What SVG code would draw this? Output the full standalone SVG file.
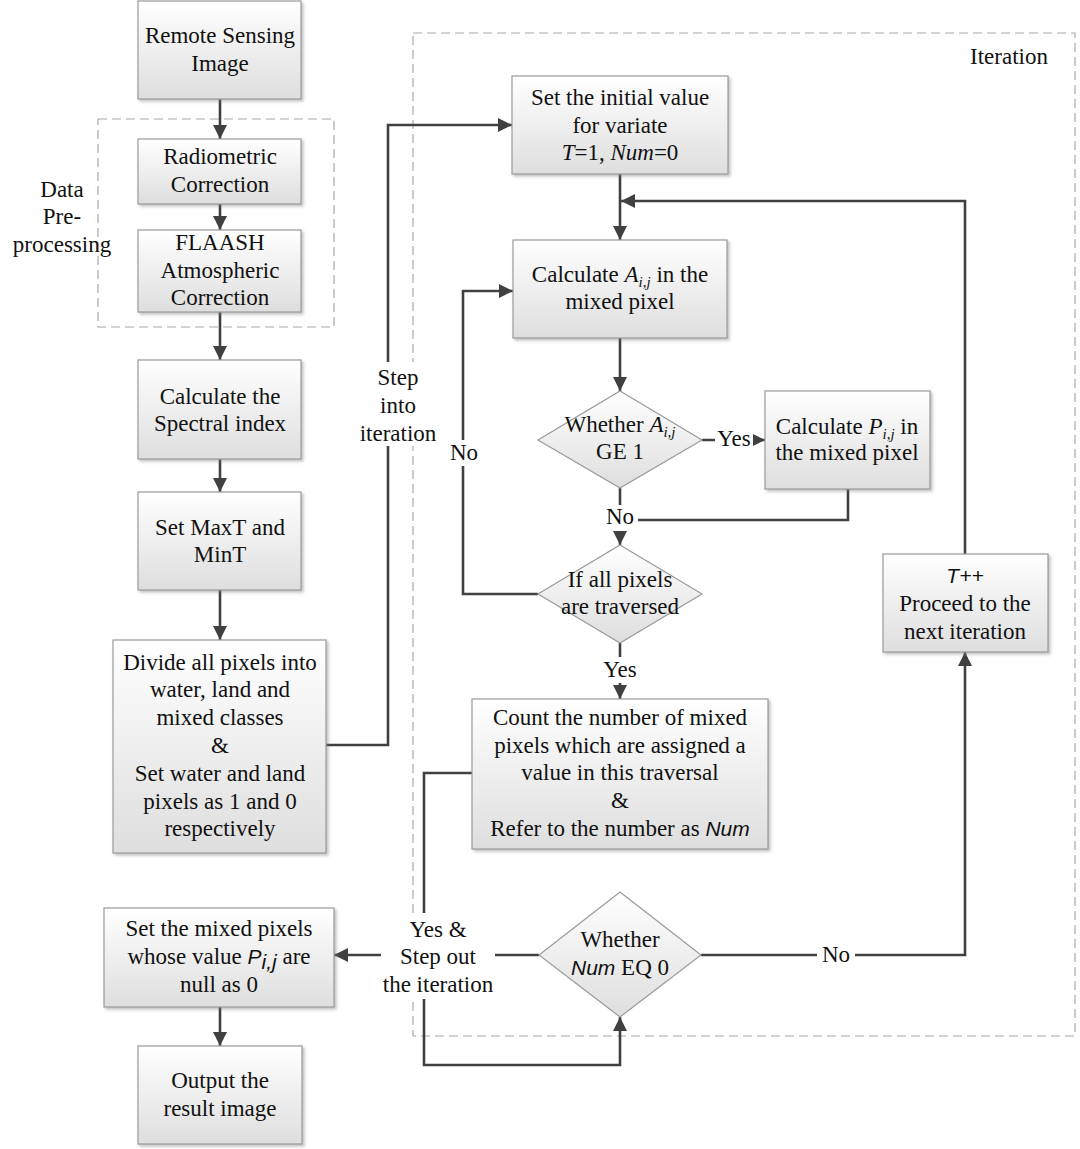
<svg xmlns="http://www.w3.org/2000/svg" width="1080" height="1149" viewBox="0 0 1080 1149">
<style>
.box{fill:url(#g);stroke:#9a9a9a;stroke-width:1.2;filter:url(#sh)}
.dia{fill:url(#g);stroke:#9a9a9a;stroke-width:1.2}
.t{font-family:"Liberation Serif","Times New Roman",serif;font-size:23px;fill:#111;text-anchor:middle}
.si{font-family:"Liberation Sans",Arial,sans-serif;font-style:italic;font-size:21px}
.it{font-style:italic}
.sub{font-size:15px;font-style:italic}
.c{fill:none;stroke:#404040;stroke-width:2.6}
.dash{fill:none;stroke:#a8a8a8;stroke-width:1.2;stroke-dasharray:9,5}
.bg{fill:#fff}
</style>
<defs>
<linearGradient id="g" x1="0" y1="0" x2="0" y2="1">
<stop offset="0" stop-color="#ffffff"/>
<stop offset="1" stop-color="#dedede"/>
</linearGradient>
<filter id="sh" x="-10%" y="-10%" width="130%" height="130%">
<feDropShadow dx="2" dy="2" stdDeviation="1.5" flood-color="#777" flood-opacity="0.45"/>
</filter>
<marker id="a" viewBox="0 0 10 10" refX="10" refY="5" markerWidth="14" markerHeight="14" markerUnits="userSpaceOnUse" orient="auto">
<path d="M0,0 L10,5 L0,10 z" fill="#404040"/>
</marker>
</defs>

<rect x="0" y="0" width="1080" height="1149" fill="#fff"/>

<g id="groups">
<rect class="dash" x="98" y="119" width="236" height="208"/>
<rect class="dash" x="413" y="33" width="662" height="1003"/>
<text class="t" x="1009" y="64">Iteration</text>
<text class="t" x="62" y="197">Data</text>
<text class="t" x="62" y="224">Pre-</text>
<text class="t" x="62" y="252">processing</text>
</g>

<g id="connectors">
<path class="c" d="M220,99 V139" marker-end="url(#a)"/>
<path class="c" d="M220,204 V230" marker-end="url(#a)"/>
<path class="c" d="M220,312 V360" marker-end="url(#a)"/>
<path class="c" d="M220,459 V492" marker-end="url(#a)"/>
<path class="c" d="M220,590 V640" marker-end="url(#a)"/>
<path class="c" d="M326,745 H388 V125 H512" marker-end="url(#a)"/>
<path class="c" d="M620,174 V240" marker-end="url(#a)"/>
<path class="c" d="M965,554 V201 H621" marker-end="url(#a)"/>
<path class="c" d="M620,338 V391" marker-end="url(#a)"/>
<path class="c" d="M702,440 H765" marker-end="url(#a)"/>
<path class="c" d="M620,488 V545" marker-end="url(#a)"/>
<path class="c" d="M848,489 V520 H636"/>
<path class="c" d="M538,594 H463 V291 H513" marker-end="url(#a)"/>
<path class="c" d="M620,643 V699" marker-end="url(#a)"/>
<path class="c" d="M472,773 H424 V1065 H620 V1017" marker-end="url(#a)"/>
<path class="c" d="M539,955 H334" marker-end="url(#a)"/>
<path class="c" d="M701,955 H965 V652" marker-end="url(#a)"/>
<path class="c" d="M220,1007 V1046" marker-end="url(#a)"/>

<rect class="bg" x="362" y="362" width="74" height="84"/>
<text class="t" x="398" y="385">Step</text>
<text class="t" x="398" y="413">into</text>
<text class="t" x="398" y="441">iteration</text>

<rect class="bg" x="446" y="440" width="36" height="26"/>
<text class="t" x="464" y="460">No</text>

<rect class="bg" x="715" y="428" width="38" height="24"/>
<text class="t" x="734" y="446">Yes</text>

<rect class="bg" x="602" y="505" width="36" height="26"/>
<text class="t" x="620" y="524">No</text>

<rect class="bg" x="600" y="657" width="40" height="26"/>
<text class="t" x="620" y="677">Yes</text>

<rect class="bg" x="381" y="913" width="114" height="86"/>
<text class="t" x="438" y="937">Yes &amp;</text>
<text class="t" x="438" y="964">Step out</text>
<text class="t" x="438" y="992">the iteration</text>

<rect class="bg" x="817" y="942" width="38" height="26"/>
<text class="t" x="836" y="962">No</text>
</g>

<g id="n1">
<rect class="box" x="138" y="1" width="163" height="98"/>
<text class="t" x="220" y="43">Remote Sensing</text>
<text class="t" x="220" y="71">Image</text>
</g>
<g id="n2">
<rect class="box" x="138" y="139" width="163" height="65"/>
<text class="t" x="220" y="164">Radiometric</text>
<text class="t" x="220" y="192">Correction</text>
</g>
<g id="n3">
<rect class="box" x="138" y="230" width="163" height="82"/>
<text class="t" x="220" y="250">FLAASH</text>
<text class="t" x="220" y="278">Atmospheric</text>
<text class="t" x="220" y="305">Correction</text>
</g>
<g id="n4">
<rect class="box" x="138" y="360" width="163" height="99"/>
<text class="t" x="220" y="404">Calculate the</text>
<text class="t" x="220" y="431">Spectral index</text>
</g>
<g id="n5">
<rect class="box" x="138" y="492" width="163" height="98"/>
<text class="t" x="220" y="535">Set MaxT and</text>
<text class="t" x="220" y="562">MinT</text>
</g>
<g id="n6">
<rect class="box" x="113" y="640" width="213" height="213"/>
<text class="t" x="220" y="670">Divide all pixels into</text>
<text class="t" x="220" y="697">water, land and</text>
<text class="t" x="220" y="725">mixed classes</text>
<text class="t" x="220" y="753">&amp;</text>
<text class="t" x="220" y="781">Set water and land</text>
<text class="t" x="220" y="809">pixels as 1 and 0</text>
<text class="t" x="220" y="836">respectively</text>
</g>
<g id="n7">
<rect class="box" x="104" y="908" width="230" height="99"/>
<text class="t" x="219" y="936">Set the mixed pixels</text>
<text class="t" x="219" y="964">whose value <tspan class="si">P</tspan><tspan class="si" font-size="15" dy="5">i,j</tspan><tspan dy="-5">  are</tspan></text>
<text class="t" x="219" y="992">null as 0</text>
</g>
<g id="n8">
<rect class="box" x="138" y="1046" width="164" height="98"/>
<text class="t" x="220" y="1088">Output the</text>
<text class="t" x="220" y="1116">result image</text>
</g>

<g id="n9">
<rect class="box" x="512" y="76" width="216" height="98"/>
<text class="t" x="620" y="105">Set the initial value</text>
<text class="t" x="620" y="133">for variate</text>
<text class="t" x="620" y="160"><tspan class="it">T</tspan>=1, <tspan class="it">Num</tspan>=0</text>
</g>
<g id="n10">
<rect class="box" x="513" y="240" width="214" height="98"/>
<text class="t" x="620" y="282">Calculate <tspan class="it">A</tspan><tspan class="sub" dy="5">i,j</tspan><tspan dy="-5"> in the</tspan></text>
<text class="t" x="620" y="309">mixed pixel</text>
</g>
<g id="n11">
<polygon class="dia" points="620,391 702,440 620,488 538,440"/>
<text class="t" x="620" y="432">Whether <tspan class="it">A</tspan><tspan class="sub" dy="5">i,j</tspan></text>
<text class="t" x="620" y="459">GE 1</text>
</g>
<g id="n12">
<rect class="box" x="765" y="391" width="165" height="98"/>
<text class="t" x="847" y="434">Calculate <tspan class="it">P</tspan><tspan class="sub" dy="5">i,j</tspan><tspan dy="-5"> in</tspan></text>
<text class="t" x="847" y="460">the mixed pixel</text>
</g>
<g id="n13">
<polygon class="dia" points="620,545 702,594 620,643 538,594"/>
<text class="t" x="620" y="587">If all pixels</text>
<text class="t" x="620" y="614">are traversed</text>
</g>
<g id="n14">
<rect class="box" x="472" y="699" width="296" height="150"/>
<text class="t" x="620" y="725">Count the number of mixed</text>
<text class="t" x="620" y="753">pixels which are assigned a</text>
<text class="t" x="620" y="780">value in this traversal</text>
<text class="t" x="620" y="808">&amp;</text>
<text class="t" x="620" y="836">Refer to the number as <tspan class="si">Num</tspan></text>
</g>
<g id="n15">
<polygon class="dia" points="620,892 701,955 620,1017 539,955"/>
<text class="t" x="620" y="947">Whether</text>
<text class="t" x="620" y="975"><tspan class="si">Num</tspan> EQ 0</text>
</g>
<g id="n16">
<rect class="box" x="883" y="554" width="165" height="98"/>
<text class="t si" x="965" y="583">T++</text>
<text class="t" x="965" y="611">Proceed to the</text>
<text class="t" x="965" y="639">next iteration</text>
</g>
</svg>
